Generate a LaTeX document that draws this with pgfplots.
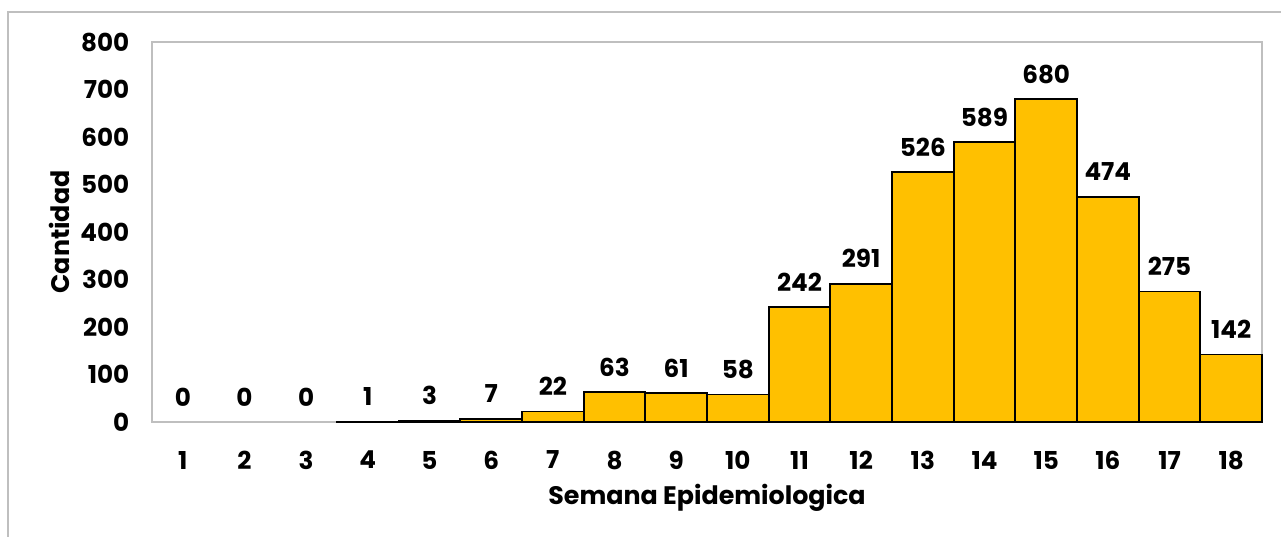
\documentclass[border=0pt]{standalone}
\usepackage{pgfplots}
\pgfplotsset{compat=1.18}
\usepackage{fontspec}
\setmainfont{Poppins}
\definecolor{gold}{HTML}{FFC000}
\definecolor{framegray}{HTML}{BFBFBF}
\begin{document}
\begin{tikzpicture}
\useasboundingbox (0,0) rectangle (960.75pt,402pt);
\draw[framegray, line width=1.1pt] (6pt,-5pt) -- (6pt,393pt) -- (970pt,393pt);
\begin{axis}[
  at={(114pt,85.5pt)}, anchor=south west,
  width=832.5pt, height=285pt, scale only axis,
  xmin=0.5, xmax=18.5, ymin=0, ymax=800,
  xtick={1,...,18}, ytick={0,100,...,800},
  major tick length=0pt,
  axis line style={framegray, line width=1.1pt},
  /pgf/number format/assume math mode=true,
  tick label style={font=\fontsize{18.5}{21}\selectfont\bfseries},
  xticklabel style={anchor=center, yshift=-28.5pt},
  yticklabel style={anchor=east, xshift=-13.5pt},
  xlabel={Semana Epidemiologica},
  ylabel={Cantidad},
  label style={font=\fontsize{19}{22}\selectfont\bfseries},
  xlabel style={at={(axis description cs:0.5,-0.2)}, anchor=center},
  ylabel style={at={(axis description cs:-0.083,0.5)}, anchor=center, rotate=0},
  clip=false,
]
\addplot[ybar, bar width=1, bar shift=0pt, fill=gold, draw=black, line width=1.3pt]
  coordinates {(4,1) (5,3) (6,7) (7,22) (8,63) (9,61) (10,58) (11,242) (12,291) (13,526) (14,589) (15,680) (16,474) (17,275) (18,142)};
\addplot[draw=none, mark=none, nodes near coords,
  every node near coord/.append style={anchor=center, yshift=18.75pt, font=\fontsize{18.5}{21}\selectfont\bfseries, text=black}]
  coordinates {(1,0) (2,0) (3,0) (4,1) (5,3) (6,7) (7,22) (8,63) (9,61) (10,58) (11,242) (12,291) (13,526) (14,589) (15,680) (16,474) (17,275) (18,142)};
\end{axis}
\end{tikzpicture}
\end{document}
